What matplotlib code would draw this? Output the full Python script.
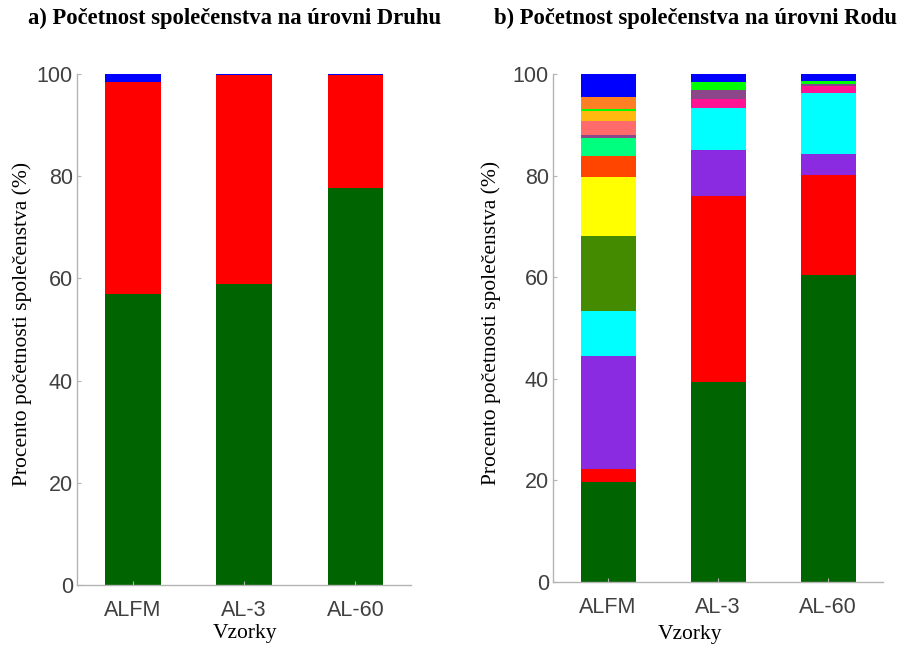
import numpy as np
import matplotlib.pyplot as plt

# data
samples = ["ALFM", "AL-3", "AL-60"]

# a) species level: green, red, blue
druh_green = [57.0, 59.0, 77.6]
druh_red = [41.4, 40.8, 22.2]
druh_blue = [1.6, 0.2, 0.2]

# b) genus level, stacked bottom -> top
rod_darkgreen = [19.7, 39.4, 60.5]
rod_red = [2.5, 36.6, 19.6]
rod_purple = [22.2, 9.0, 4.1]
rod_cyan = [8.9, 8.4, 12.1]
rod_olive = [14.8, 0.0, 0.0]
rod_yellow = [11.6, 0.0, 0.0]
rod_orangered = [4.1, 0.0, 0.0]
rod_springgreen = [3.6, 0.0, 0.0]
rod_deeppink = [0.0, 1.7, 1.3]
rod_plum = [0.6, 1.7, 0.4]
rod_salmon = [2.8, 0.0, 0.0]
rod_orange = [2.0, 0.0, 0.0]
rod_lime = [0.4, 1.6, 0.6]
rod_darkorange = [2.2, 0.0, 0.0]
rod_blue = [4.6, 1.6, 1.4]

druh_series = [druh_green, druh_red, druh_blue]
druh_colors = ["#006400", "#ff0000", "#0000ff"]

rod_series = [rod_darkgreen, rod_red, rod_purple, rod_cyan, rod_olive, rod_yellow,
              rod_orangered, rod_springgreen, rod_deeppink, rod_plum, rod_salmon,
              rod_orange, rod_lime, rod_darkorange, rod_blue]
rod_colors = ["#006400", "#ff0000", "#8a2be2", "#00ffff", "#458b00", "#ffff00",
              "#ff4500", "#00ff7f", "#ff1493", "#8b4789", "#ff6a6a",
              "#ffb90f", "#00ff00", "#ff7f24", "#0000ff"]

serif = "Liberation Serif"
sans = "Liberation Sans"
axis_gray = "#b4b4b4"

fig = plt.figure(figsize=(8.99, 6.46), dpi=100)
ax_a = fig.add_axes([77 / 899, 61 / 646, 334 / 899, 511 / 646])
ax_b = fig.add_axes([553 / 899, 64 / 646, 330 / 899, 508 / 646])


def stacked(ax, series, colors):
    x = np.arange(1, len(samples) + 1)
    bottom = np.zeros(len(samples))
    for vals, c in zip(series, colors):
        vals = np.array(vals)
        ax.bar(x, vals, 0.5, bottom=bottom, color=c, linewidth=0)
        bottom += vals
    ax.set_xlim(0.5, 3.5)
    ax.set_ylim(0, 100)
    ax.set_xticks(x)
    ax.set_xticklabels(samples, fontfamily=sans)
    ax.set_yticks([0, 20, 40, 60, 80, 100])
    for s in ["top", "right"]:
        ax.spines[s].set_visible(False)
    for s in ["left", "bottom"]:
        ax.spines[s].set_color(axis_gray)
        ax.spines[s].set_linewidth(1.0)
    ax.tick_params(direction="in", length=3, color=axis_gray, labelcolor="#404040",
                   labelsize=15.5)
    ax.tick_params(axis="x", pad=11)
    ax.tick_params(axis="y", pad=3)
    for t in ax.get_yticklabels():
        t.set_fontfamily(sans)
    ax.set_ylabel("Procento početnosti společenstva (%)", fontfamily=serif, fontsize=15.5)
    ax.set_xlabel("Vzorky", fontfamily=serif, fontsize=15.5)


stacked(ax_a, druh_series, druh_colors)
stacked(ax_b, rod_series, rod_colors)

ax_a.yaxis.set_label_coords(-0.135, 0.51)
ax_b.yaxis.set_label_coords(-0.158, 0.51)
ax_a.xaxis.set_label_coords(0.503, -0.076)
ax_b.xaxis.set_label_coords(0.415, -0.084)

fig.text(235 / 899, 1 - 18 / 646, "a) Početnost společenstva na úrovni Druhu",
         fontfamily=serif, fontweight="bold", fontsize=16.3, ha="center", va="center")
fig.text(695 / 899, 1 - 18 / 646, "b) Početnost společenstva na úrovni Rodu",
         fontfamily=serif, fontweight="bold", fontsize=16.3, ha="center", va="center")

fig.savefig("out.png", dpi=100)
